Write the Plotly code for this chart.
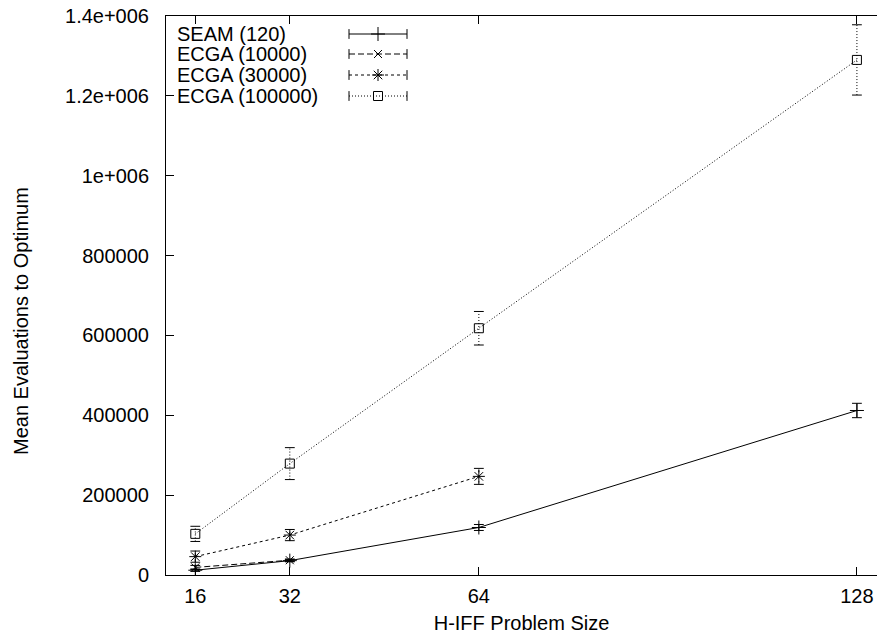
import plotly.graph_objects as go

# H-IFF problem sizes and mean evaluations to reach the optimum
sizes = [16, 32, 64, 128]

seam_x = [16, 32, 64, 128]
seam_y = [12000, 36000, 119000, 412000]
seam_err = [3000, 3000, 7500, 18000]

ecga10k_x = [16, 32]
ecga10k_y = [19000, 37000]
ecga10k_err = [5000, 3000]

ecga30k_x = [16, 32, 64]
ecga30k_y = [46000, 100000, 247000]
ecga30k_err = [14000, 14000, 20000]

ecga100k_x = [16, 32, 64, 128]
ecga100k_y = [103000, 279000, 618000, 1290000]
ecga100k_err = [19000, 40000, 42000, 88000]

y_ticks = [0, 200000, 400000, 600000, 800000, 1000000, 1200000, 1400000]
y_tick_text = ["0", "200000", "400000", "600000", "800000",
               "1e+006", "1.2e+006", "1.4e+006"]

series = [
    ("SEAM (120)", seam_x, seam_y, seam_err, "solid", "cross-thin", 10),
    ("ECGA (10000)", ecga10k_x, ecga10k_y, ecga10k_err, "6px,3px", "x-thin", 8),
    ("ECGA (30000)", ecga30k_x, ecga30k_y, ecga30k_err, "3px,3px", "asterisk", 10),
    ("ECGA (100000)", ecga100k_x, ecga100k_y, ecga100k_err, "1px,2px", "square-open", 9),
]

FONT = "Liberation Sans, Arial, sans-serif"
INK = "black"

W, H = 877, 640
L, R, T, B = 166, 0, 16, 65
PW, PH = W - L - R, H - T - B


def px_x(px):
    """Horizontal pixel position -> paper fraction."""
    return (px - L) / PW


def px_y(py):
    """Vertical pixel position (from top) -> paper fraction."""
    return (H - B - py) / PH


fig = go.Figure()

for name, xs, ys, es, dash, sym, msize in series:
    # connecting line with point markers
    fig.add_trace(go.Scatter(
        x=xs, y=ys, mode="lines+markers", name=name, showlegend=False,
        line=dict(color=INK, width=1, dash=dash),
        marker=dict(symbol=sym, size=msize, color=INK,
                    line=dict(color=INK, width=1)),
    ))
    # vertical error bars, drawn in the series' own dash style
    seg_x, seg_y = [], []
    for x, y, e in zip(xs, ys, es):
        seg_x += [x, x, None]
        seg_y += [y - e, y + e, None]
    fig.add_trace(go.Scatter(
        x=seg_x, y=seg_y, mode="lines", showlegend=False, hoverinfo="skip",
        line=dict(color=INK, width=1, dash=dash),
    ))
    # error bar caps
    cap_x = [x for x in xs for _ in (0, 1)]
    cap_y = [v for y, e in zip(ys, es) for v in (y - e, y + e)]
    fig.add_trace(go.Scatter(
        x=cap_x, y=cap_y, mode="markers", showlegend=False, hoverinfo="skip",
        marker=dict(symbol="line-ew", size=7, color=INK,
                    line=dict(color=INK, width=1)),
    ))

# key in the upper left: label text followed by a line sample
key_rows = [34, 54, 75, 96]
key_x0, key_x1 = 349, 407
key_mid = (key_x0 + key_x1) / 2
for (name, xs, ys, es, dash, sym, msize), ry in zip(series, key_rows):
    fig.add_trace(go.Scatter(
        x=[key_x0, key_x1], y=[ry, ry], mode="lines", xaxis="x2", yaxis="y2",
        showlegend=False, hoverinfo="skip",
        line=dict(color=INK, width=1, dash=dash),
    ))
    fig.add_trace(go.Scatter(
        x=[key_x0, key_x1], y=[ry, ry], mode="markers", xaxis="x2", yaxis="y2",
        showlegend=False, hoverinfo="skip",
        marker=dict(symbol="line-ns", size=7, color=INK,
                    line=dict(color=INK, width=1)),
    ))
    fig.add_trace(go.Scatter(
        x=[key_mid], y=[ry], mode="markers", xaxis="x2", yaxis="y2",
        showlegend=False, hoverinfo="skip",
        marker=dict(symbol=sym, size=msize, color=INK,
                    line=dict(color=INK, width=1)),
    ))
    fig.add_annotation(
        x=px_x(175), y=px_y(ry), xref="paper", yref="paper", text=name,
        showarrow=False, xanchor="left", yanchor="middle",
        font=dict(family=FONT, size=20, color=INK),
    )

fig.update_layout(
    width=W, height=H,
    margin=dict(l=L, r=R, t=T, b=B, pad=0),
    paper_bgcolor="white", plot_bgcolor="white",
    font=dict(family=FONT, size=20, color=INK),
    showlegend=False,
    xaxis=dict(
        range=[11.04, 131.4], tickvals=sizes, ticktext=[str(s) for s in sizes],
        ticks="inside", ticklen=8, tickwidth=1, tickcolor=INK,
        showline=True, linecolor=INK, linewidth=1, mirror="allticks",
        showgrid=False, zeroline=False, ticklabelstandoff=3,
        title=dict(text="H-IFF Problem Size", standoff=9,
                   font=dict(family=FONT, size=20, color=INK)),
    ),
    yaxis=dict(
        range=[0, 1400000], tickvals=y_ticks, ticktext=y_tick_text,
        ticks="inside", ticklen=8, tickwidth=1, tickcolor=INK,
        showline=True, linecolor=INK, linewidth=1,
        showgrid=False, zeroline=False, ticklabelstandoff=12,
    ),
    xaxis2=dict(range=[L, W - R], overlaying="x", visible=False, fixedrange=True),
    yaxis2=dict(range=[H - B, T], overlaying="y", visible=False, fixedrange=True),
)

fig.add_annotation(
    x=px_x(21), y=px_y(321), xref="paper", yref="paper",
    text="Mean Evaluations to Optimum", textangle=-90, showarrow=False,
    xanchor="center", yanchor="middle",
    font=dict(family=FONT, size=20, color=INK),
)

fig.write_html("out.html")
